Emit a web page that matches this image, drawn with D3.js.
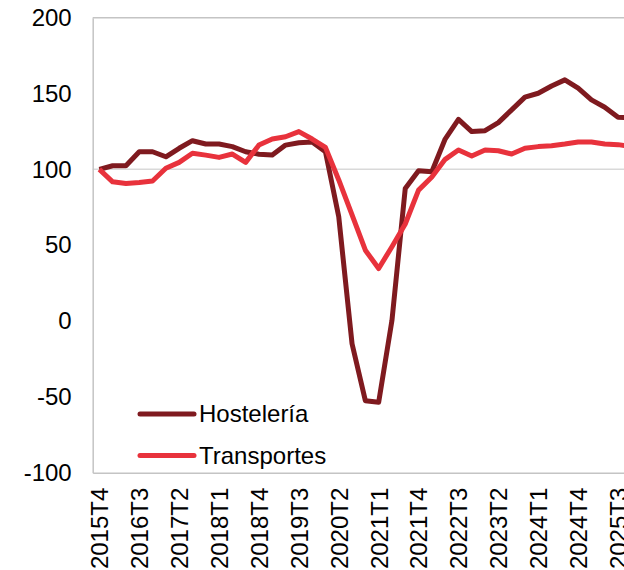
<!DOCTYPE html>
<html>
<head>
    <meta charset="utf-8">
    <title>Hostelería y Transportes</title>
    <script src="https://d3js.org/d3.v7.min.js"></script>
    <style>
        body {
            margin: 0;
            font-family: "Liberation Sans", Arial, sans-serif;
            background: #fff;
        }
        svg {
            display: block;
            overflow: hidden;
        }
        .tick text {
            font-size: 24px;
            fill: #000;
        }
        .legend-label {
            font-size: 24px;
            fill: #000;
        }
    </style>
</head>
<body>
    <svg id="chart" width="624" height="570"></svg>

    <script>
        // quarters, 2015T4 .. 2025T4
        const categories = [
            '2015T4',
            '2016T1', '2016T2', '2016T3', '2016T4',
            '2017T1', '2017T2', '2017T3', '2017T4',
            '2018T1', '2018T2', '2018T3', '2018T4',
            '2019T1', '2019T2', '2019T3', '2019T4',
            '2020T1', '2020T2', '2020T3', '2020T4',
            '2021T1', '2021T2', '2021T3', '2021T4',
            '2022T1', '2022T2', '2022T3', '2022T4',
            '2023T1', '2023T2', '2023T3', '2023T4',
            '2024T1', '2024T2', '2024T3', '2024T4',
            '2025T1', '2025T2', '2025T3', '2025T4'
        ];

        const hosteleria = [
            100, 102.4, 102.4, 111.6, 111.6, 108.3, 113.9, 118.9, 116.7, 116.7,
            115, 111.6, 110, 109.4, 116, 117.6, 118, 111.6, 68.7, -15,
            -52.5, -53.6, 0.4, 87.4, 99.1, 98.4, 120, 133, 124.9, 125.5,
            130.8, 139.2, 147.6, 150.2, 155, 159, 153.5, 145.8, 141, 134.4,
            134
        ];

        const transportes = [
            100, 91.8, 90.7, 91.4, 92.3, 100.7, 104.6, 110.6, 109.4, 107.9,
            110.1, 104.6, 116, 120, 121.5, 124.9, 120, 114.5, 93, 70,
            46.7, 34.6, 49, 64, 86.3, 95, 106.6, 112.8, 108.8, 112.8,
            112.3, 110.1, 113.9, 115, 115.6, 116.7, 118, 118, 116.7, 116.3,
            115
        ];

        const yTicks = [-100, -50, 0, 50, 100, 150, 200];
        const gridValues = [100, 200];
        const xTickLabels = ['2015T4', '2016T3', '2017T2', '2018T1', '2018T4', '2019T3', '2020T2',
            '2021T1', '2021T4', '2022T3', '2023T2', '2024T1', '2024T4', '2025T3'];

        const series = [
            {name: 'Hostelería', values: hosteleria, color: '#7f1a1f'},
            {name: 'Transportes', values: transportes, color: '#e8323c'}
        ];

        const margin = {top: 17.7, left: 92.7};
        const step = 13.3;
        const width = step * categories.length;
        const height = 455;

        const svg = d3.select('#chart');
        const g = svg.append('g')
            .attr('transform', `translate(${margin.left},${margin.top})`);

        const x = d3.scalePoint()
            .domain(categories)
            .range([0, width])
            .padding(0.5);
        const y = d3.scaleLinear()
            .domain([-100, 200])
            .range([height, 0]);

        // gridlines
        g.selectAll('.grid')
            .data(gridValues)
            .enter().append('line')
            .attr('class', 'grid')
            .attr('x1', 0)
            .attr('x2', width)
            .attr('y1', d => y(d))
            .attr('y2', d => y(d))
            .attr('stroke', d => d === 200 ? '#c4c4c4' : '#d9d9d9')
            .attr('stroke-width', 1.5);

        // y axis, plain hyphen for negatives like the original
        const yAxis = d3.axisLeft(y)
            .tickValues(yTicks)
            .tickFormat(d => String(d))
            .tickSize(0)
            .tickPadding(21);
        const yg = g.append('g').call(yAxis);
        yg.select('.domain').attr('stroke', '#c4c4c4').attr('stroke-width', 1.5);
        yg.selectAll('text').attr('font-family', null);

        // x axis
        const xAxis = d3.axisBottom(x)
            .tickValues(xTickLabels)
            .tickSize(0)
            .tickSizeOuter(0);
        const xg = g.append('g')
            .attr('transform', `translate(0,${height})`)
            .call(xAxis);
        xg.select('.domain').attr('stroke', '#c4c4c4').attr('stroke-width', 1.5);
        xg.selectAll('text')
            .attr('font-family', null)
            .attr('transform', 'rotate(-90)')
            .attr('text-anchor', 'end')
            .attr('x', -15)
            .attr('y', 0)
            .attr('dy', '0.35em');

        // lines
        const line = d3.line()
            .x((d, i) => x(categories[i]))
            .y(d => y(d));

        g.selectAll('.series')
            .data(series)
            .enter().append('path')
            .attr('class', 'series')
            .attr('fill', 'none')
            .attr('stroke', d => d.color)
            .attr('stroke-width', 5)
            .attr('stroke-linejoin', 'round')
            .attr('d', d => line(d.values));

        // legend
        const legend = svg.append('g')
            .selectAll('g')
            .data(series)
            .enter().append('g')
            .attr('transform', (d, i) => `translate(140,${414 + i * 41.5})`);
        legend.append('line')
            .attr('x1', 0)
            .attr('x2', 54)
            .attr('stroke', d => d.color)
            .attr('stroke-width', 5)
            .attr('stroke-linecap', 'round');
        legend.append('text')
            .attr('class', 'legend-label')
            .attr('x', 59)
            .attr('dy', '0.35em')
            .text(d => d.name);
    </script>
</body>
</html>
